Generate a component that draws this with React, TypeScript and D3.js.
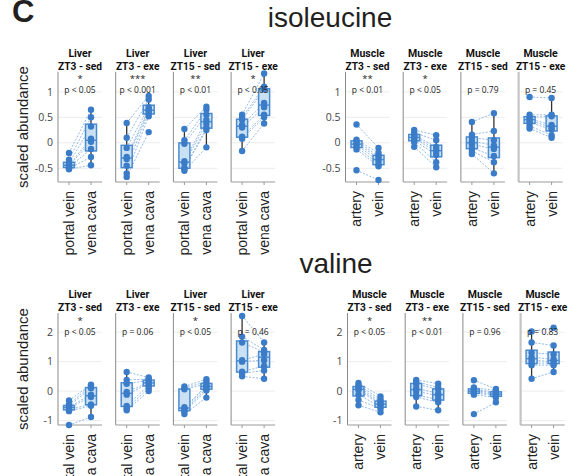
import React from 'react';
import * as d3 from 'd3';

const conditions = ['ZT3 - sed', 'ZT3 - exe', 'ZT15 - sed', 'ZT15 - exe'];
const liverCats = ['portal vein', 'vena cava'];
const muscleCats = ['artery', 'vein'];

// isoleucine
const isoLiverPortal = [
  [-0.2, -0.33, -0.4, -0.43, -0.45, -0.48, -0.5, -0.52],
  [0.39, 0.1, -0.1, -0.28, -0.32, -0.45, -0.6, -0.67],
  [0.27, 0.05, -0.02, -0.36, -0.4, -0.5, -0.5, -0.55],
  [0.55, 0.5, 0.45, 0.35, 0.3, 0.12, 0.08, -0.16],
];
const isoLiverCava = [
  [0.65, 0.5, 0.32, 0.08, 0.02, -0.12, -0.28, -0.44],
  [0.92, 0.85, 0.7, 0.66, 0.62, 0.58, 0.52, 0.21],
  [0.71, 0.65, 0.55, 0.45, 0.38, 0.3, 0.25, -0.09],
  [1.36, 1.1, 1.05, 0.78, 0.7, 0.55, 0.5, 0.38],
];
const isoMuscleArtery = [
  [0.36, 0.06, 0.03, -0.01, -0.04, -0.08, -0.13, -0.54],
  [0.25, 0.2, 0.15, 0.12, 0.09, 0.05, 0.01, -0.08],
  [0.41, 0.16, 0.1, 0.03, -0.03, -0.1, -0.16, -0.22],
  [0.9, 0.55, 0.5, 0.47, 0.44, 0.4, 0.33, 0.28],
];
const isoMuscleVein = [
  [-0.1, -0.2, -0.26, -0.3, -0.36, -0.42, -0.46, -0.73],
  [0.15, 0.05, -0.08, -0.13, -0.18, -0.24, -0.38, -0.48],
  [0.58, 0.23, 0.05, -0.05, -0.12, -0.26, -0.38, -0.6],
  [0.88, 0.55, 0.52, 0.35, 0.3, 0.26, 0.15, 0.1],
];
const isoLiverStars = ['*', '***', '**', '*'];
const isoLiverP = ['p < 0.05', 'p < 0.001', 'p < 0.01', 'p < 0.05'];
const isoMuscleStars = ['**', '*', '', ''];
const isoMuscleP = ['p < 0.01', 'p < 0.05', 'p = 0.79', 'p = 0.45'];
const isoTicks = [-0.5, 0, 0.5, 1];
const isoTickLabels = ['-0.5', '0', '0.5', '1'];

// valine
const valLiverPortal = [
  [-0.32, -0.45, -0.5, -0.54, -0.57, -0.62, -0.68, -1.15],
  [0.65, 0.38, 0.25, -0.03, -0.12, -0.5, -0.58, -0.65],
  [0.16, 0.1, 0.06, -0.55, -0.6, -0.65, -0.7, -0.78],
  [2.55, 1.85, 1.65, 1.05, 1.0, 0.66, 0.6, 0.5],
];
const valLiverCava = [
  [0.22, 0.18, 0.1, -0.12, -0.2, -0.45, -0.5, -0.88],
  [0.46, 0.41, 0.36, 0.3, 0.26, 0.2, 0.1, 0.0],
  [0.4, 0.32, 0.24, 0.18, 0.14, 0.08, 0.02, -0.22],
  [1.65, 1.4, 1.32, 1.25, 1.05, 0.85, 0.7, 0.42],
];
const valMuscleArtery = [
  [0.28, 0.2, 0.14, 0.09, 0.03, -0.12, -0.3, -0.48],
  [0.38, 0.32, 0.24, 0.1, 0.0, -0.14, -0.2, -0.52],
  [0.37, 0.12, 0.06, 0.02, -0.02, -0.06, -0.12, -0.78],
  [2.02, 1.65, 1.3, 1.15, 1.05, 0.95, 0.88, 0.42],
];
const valMuscleVein = [
  [-0.18, -0.28, -0.36, -0.42, -0.46, -0.53, -0.6, -0.72],
  [0.25, 0.12, 0.06, -0.08, -0.16, -0.28, -0.38, -0.65],
  [0.07, 0.02, -0.04, -0.08, -0.12, -0.16, -0.22, -0.38],
  [2.15, 1.55, 1.25, 1.08, 1.0, 0.95, 0.88, 0.65],
];
const valLiverStars = ['*', '', '*', ''];
const valLiverP = ['p < 0.05', 'p = 0.06', 'p < 0.05', 'p = 0.46'];
const valMuscleStars = ['*', '**', '', ''];
const valMuscleP = ['p < 0.05', 'p < 0.01', 'p = 0.96', 'p = 0.83'];
const valTicks = [-1, 0, 1, 2];
const valTickLabels = ['-1', '0', '1', '2'];

const PANEL_W = 44;
const PANEL_STEP = 57.7;
const BOX_HALF = 5.5;
const POINT_FILL = '#3b7cc9';
const BOX_FILL = '#cae1f3';
const BOX_STROKE = '#4a8acf';
const PAIR_STROKE = '#78a9de';
const FONT = "'Open Sans', 'Noto Sans', sans-serif";
const TFONT = "Roboto, 'Open Sans', sans-serif";
const HFONT = "'Liberation Sans', Arial, sans-serif";

function boxStats(v: number[]) {
  const s = [...v].sort(d3.ascending);
  const q1 = d3.quantileSorted(s, 0.25) as number;
  const med = d3.quantileSorted(s, 0.5) as number;
  const q3 = d3.quantileSorted(s, 0.75) as number;
  const iqr = q3 - q1;
  const lo = d3.min(s.filter((d) => d >= q1 - 1.5 * iqr)) as number;
  const hi = d3.max(s.filter((d) => d <= q3 + 1.5 * iqr)) as number;
  return { q1, med, q3, lo, hi };
}

type PanelProps = {
  x0: number;
  y: d3.ScaleLinear<number, number>;
  a: number[];
  b: number[];
  cats: string[];
  tissue: string;
  cond: string;
  star: string;
  p: string;
  ticks: number[];
  tickLabels: string[];
  showTicks: boolean;
  titleY: number;
  starY: number;
  pY: number;
  labelY: number;
  axisColor: string;
  axisWidth: number;
};

function Panel(props: PanelProps) {
  const { x0, y, a, b, cats, tissue, cond, star, p, ticks, tickLabels, showTicks, titleY, starY, pY, labelY, axisColor, axisWidth } = props;
  const x = d3.scalePoint<string>().domain(cats).range([x0, x0 + PANEL_W]).padding(0.5);
  const [yBottom, yTop] = y.range();
  const cx = x0 + PANEL_W / 2;
  const groups = [a, b];
  return (
    <g>
      {ticks.map((t) => (
        <line key={'g' + t} x1={x0} x2={x0 + PANEL_W} y1={y(t)} y2={y(t)} stroke="#ececec" strokeWidth={1} />
      ))}
      {showTicks &&
        ticks.map((t, i) => (
          <text key={'t' + t} x={x0 - 5} y={y(t)} dy="0.35em" textAnchor="end" fontSize={10.5} fill="#444" fontFamily={FONT}>
            {tickLabels[i]}
          </text>
        ))}
      <line x1={x0} x2={x0} y1={yTop} y2={yBottom} stroke={axisColor} strokeWidth={axisWidth} />
      <line x1={x0} x2={x0 + PANEL_W} y1={yBottom} y2={yBottom} stroke="#9a9a9a" strokeWidth={1} />
      {cats.map((c) => (
        <line key={'tk' + c} x1={x(c)} x2={x(c)} y1={yBottom} y2={yBottom + 3} stroke="#9a9a9a" strokeWidth={1} />
      ))}
      <text x={cx} y={titleY} textAnchor="middle" fontSize={10.5} fontWeight="bold" fill="#111" fontFamily={TFONT}>
        {tissue}
      </text>
      <text x={cx} y={titleY + 13} textAnchor="middle" fontSize={10.2} fontWeight="bold" fill="#111" fontFamily={TFONT}>
        {cond}
      </text>
      {a.map((va, i) => (
        <line
          key={'pair' + i}
          x1={x(cats[0])}
          x2={x(cats[1])}
          y1={y(va)}
          y2={y(b[i])}
          stroke={PAIR_STROKE}
          strokeWidth={0.8}
          strokeDasharray="2,1.5"
        />
      ))}
      {groups.map((g, gi) => {
        const s = boxStats(g);
        const px = x(cats[gi]) as number;
        return (
          <g key={'box' + gi}>
            <line x1={px} x2={px} y1={y(s.hi)} y2={y(s.q3)} stroke="#333" strokeWidth={1.3} />
            <line x1={px} x2={px} y1={y(s.q1)} y2={y(s.lo)} stroke="#333" strokeWidth={1.3} />
            <rect
              x={px - BOX_HALF}
              y={y(s.q3)}
              width={BOX_HALF * 2}
              height={Math.max(0.5, y(s.q1) - y(s.q3))}
              fill={BOX_FILL}
              stroke={BOX_STROKE}
              strokeWidth={1.5}
            />
            <line x1={px - BOX_HALF} x2={px + BOX_HALF} y1={y(s.med)} y2={y(s.med)} stroke={BOX_STROKE} strokeWidth={1.5} />
          </g>
        );
      })}
      {groups.map((g, gi) =>
        g.map((v, i) => <circle key={'pt' + gi + '-' + i} cx={x(cats[gi])} cy={y(v)} r={3.2} fill={POINT_FILL} />)
      )}
      {star && (
        <text x={cx} y={starY} textAnchor="middle" fontSize={9.5} fill="#222" fontFamily={FONT}>
          {star}
        </text>
      )}
      <text x={cx} y={pY} dy="0.35em" textAnchor="middle" fontSize={8.5} fill="#222" fontFamily={FONT}>
        {p}
      </text>
      {cats.map((c) => (
        <text
          key={'lab' + c}
          transform={`translate(${x(c)},${labelY}) rotate(-90)`}
          dy="0.35em"
          textAnchor="end"
          fontSize={14}
          fill="#222"
          fontFamily={HFONT}
        >
          {c}
        </text>
      ))}
    </g>
  );
}

type GroupProps = {
  x0: number;
  y: d3.ScaleLinear<number, number>;
  aArr: number[][];
  bArr: number[][];
  cats: string[];
  tissue: string;
  stars: string[];
  ps: string[];
  ticks: number[];
  tickLabels: string[];
  titleY: number;
  starY: number;
  pY: number;
  labelY: number;
  lastLight: boolean;
};

function Group(props: GroupProps) {
  const { x0, y, aArr, bArr, cats, tissue, stars, ps, ticks, tickLabels, titleY, starY, pY, labelY, lastLight } = props;
  return (
    <g>
      {conditions.map((cond, i) => (
        <Panel
          key={cond}
          x0={x0 + i * PANEL_STEP}
          y={y}
          a={aArr[i]}
          b={bArr[i]}
          cats={cats}
          tissue={tissue}
          cond={cond}
          star={stars[i]}
          p={ps[i]}
          ticks={ticks}
          tickLabels={tickLabels}
          showTicks={i === 0}
          titleY={titleY}
          starY={starY}
          pY={pY}
          labelY={labelY}
          axisColor={lastLight && i === 3 ? '#c4c4c4' : '#8a8a8a'}
          axisWidth={lastLight && i === 3 ? 2.2 : 1}
        />
      ))}
    </g>
  );
}

export default function App() {
  const yIso = d3.scaleLinear().domain([-0.77, 1.39]).range([182, 72]);
  const yVal = d3.scaleLinear().domain([-1.15, 2.65]).range([425, 313]);
  return (
    <svg width={583} height={476} style={{ position: 'absolute', left: 0, top: 0, background: '#fff' }}>
      <rect width={583} height={476} fill="#fff" />
      <text x={12} y={22} fontSize={31} fontWeight="bold" fill="#231f20" fontFamily={HFONT}>
        C
      </text>
      <text x={330} y={27} textAnchor="middle" fontSize={28} fill="#231f20" fontFamily={HFONT}>
        isoleucine
      </text>
      <text x={336} y={273} textAnchor="middle" fontSize={28} fill="#231f20" fontFamily={HFONT}>
        valine
      </text>
      <text transform="translate(23,127) rotate(-90)" dy="0.35em" textAnchor="middle" fontSize={15} fill="#222" fontFamily={HFONT}>
        scaled abundance
      </text>
      <text transform="translate(23,369) rotate(-90)" dy="0.35em" textAnchor="middle" fontSize={15} fill="#222" fontFamily={HFONT}>
        scaled abundance
      </text>
      <Group
        x0={58}
        y={yIso}
        aArr={isoLiverPortal}
        bArr={isoLiverCava}
        cats={liverCats}
        tissue="Liver"
        stars={isoLiverStars}
        ps={isoLiverP}
        ticks={isoTicks}
        tickLabels={isoTickLabels}
        titleY={56.5}
        starY={82}
        pY={90}
        labelY={191}
        lastLight={false}
      />
      <Group
        x0={345.5}
        y={yIso}
        aArr={isoMuscleArtery}
        bArr={isoMuscleVein}
        cats={muscleCats}
        tissue="Muscle"
        stars={isoMuscleStars}
        ps={isoMuscleP}
        ticks={isoTicks}
        tickLabels={isoTickLabels}
        titleY={56.5}
        starY={82}
        pY={90}
        labelY={191}
        lastLight={true}
      />
      <Group
        x0={58}
        y={yVal}
        aArr={valLiverPortal}
        bArr={valLiverCava}
        cats={liverCats}
        tissue="Liver"
        stars={valLiverStars}
        ps={valLiverP}
        ticks={valTicks}
        tickLabels={valTickLabels}
        titleY={298}
        starY={324}
        pY={332}
        labelY={434}
        lastLight={false}
      />
      <Group
        x0={347.5}
        y={yVal}
        aArr={valMuscleArtery}
        bArr={valMuscleVein}
        cats={muscleCats}
        tissue="Muscle"
        stars={valMuscleStars}
        ps={valMuscleP}
        ticks={valTicks}
        tickLabels={valTickLabels}
        titleY={298}
        starY={324}
        pY={332}
        labelY={434}
        lastLight={true}
      />
    </svg>
  );
}
